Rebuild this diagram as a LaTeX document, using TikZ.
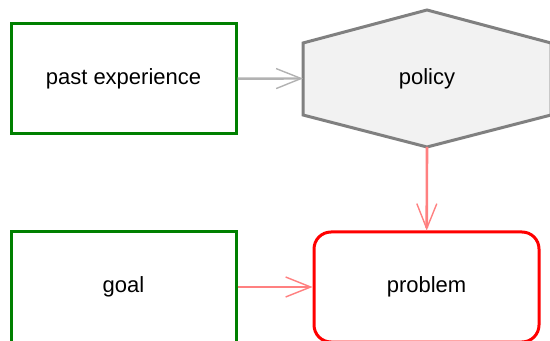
\documentclass[tikz,border=0pt]{standalone}
\usepackage{fontspec}
\setmainfont{Liberation Sans}
\usetikzlibrary{arrows.meta}
\begin{document}
\begin{tikzpicture}[x=0.5pt, y=-0.5pt, font=\fontsize{11}{13}\selectfont,
	input box/.style={draw=green!50!black, line width=1.5pt, minimum width=112.5pt, minimum height=55pt},
	policy shape/.style={draw=gray, fill=gray!10, line width=1.5pt, line join=miter},
	problem box/.style={draw=red, line width=1.5pt, rounded corners=8.5pt, minimum width=112.5pt, minimum height=55pt},
	gray arrow/.style={draw=gray!60, line width=1.2pt, -{Straight Barb[length=12.5pt, width=10pt, line width=0.7pt]}},
	red arrow/.style={draw=red!50, line width=1.3pt, -{Straight Barb[length=12.5pt, width=10pt, line width=0.7pt]}}]
	\clip (0,0) rectangle (550,341);
	% hexagon round the policy
	\draw[policy shape] (303,43) -- (427,10) -- (551,43) -- (551,115) -- (427,147) -- (303,115) -- cycle;
	\coordinate (policy west) at (303,78.5);
	\coordinate (policy south) at (427,147);
	\node[input box] (past) at (123.5,79) {past experience};
	\node[input box] (goal) at (123.5,287) {goal};
	\node (policy) at (427,78.5) {policy};
	\node[problem box] (problem) at (426.5,287) {problem};
	\draw[gray arrow] (past) -- (policy west);
	\draw[red arrow] (policy south) -- (problem);
	\draw[red arrow] (goal) -- (problem);
\end{tikzpicture}
\end{document}
